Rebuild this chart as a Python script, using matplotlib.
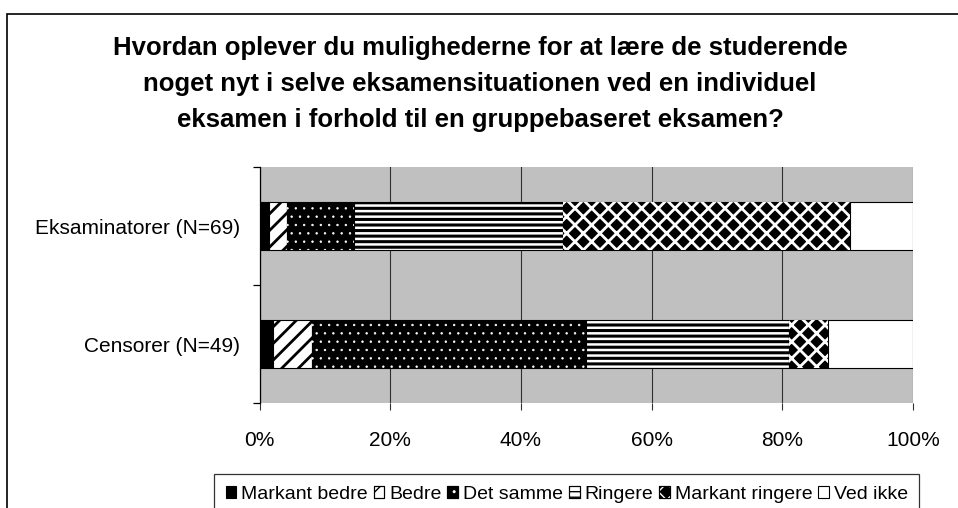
import numpy as np
import matplotlib
matplotlib.use("Agg")
import matplotlib.pyplot as plt
from matplotlib.patches import Rectangle, Patch
from matplotlib.legend_handler import HandlerTuple

plt.rcParams['font.family'] = ['Liberation Sans', 'DejaVu Sans']

# data (percent of respondents)
groups = ['Censorer (N=49)', 'Eksaminatorer (N=69)']
answers = ['Markant bedre', 'Bedre', 'Det samme', 'Ringere', 'Markant ringere', 'Ved ikke']
censorer = [2, 6, 42, 31, 6, 13]
eksaminatorer = [1.4, 2.8, 10.2, 32, 44, 9.6]
xticks = [0, 20, 40, 60, 80, 100]
title_lines = ['Hvordan oplever du mulighederne for at lære de studerende',
               'noget nyt i selve eksamensituationen ved en individuel',
               'eksamen i forhold til en gruppebaseret eksamen?']

# fill style per answer: (base colour, hatch, hatch colour, hatch width)
styles = [
    ('black', None, None, 0),
    ('white', '//', 'black', 2.0),
    ('black', '..', 'white', 0.5),
    ('white', '---', 'black', 2.2),
    ('black', 'xx', 'white', 2.0),
    ('white', None, None, 0),
]

fig = plt.figure(figsize=(9.58, 5.08), dpi=100)
ax = fig.add_axes([259.5 / 958, 1 - 403 / 508, 653.5 / 958, 236 / 508])
ax.set_facecolor('#c0c0c0')

values = np.array([censorer, eksaminatorer], dtype=float)
ypos = np.arange(len(groups))
left = np.zeros(len(groups))
handles = []
for i, name in enumerate(answers):
    base, hatch, hcol, hlw = styles[i]
    ax.barh(ypos, values[:, i], left=left, height=0.4, color=base,
            edgecolor='black', linewidth=0.8, zorder=3)
    h_base = Patch(facecolor=base, edgecolor='black', linewidth=0.8)
    if hatch:
        bars = ax.barh(ypos, values[:, i], left=left, height=0.4, facecolor='none',
                       edgecolor=hcol, hatch=hatch, linewidth=0, zorder=4)
        for b in bars:
            if hasattr(b, 'set_hatch_linewidth'):
                b.set_hatch_linewidth(hlw)
        h_hatch = Patch(facecolor='none', edgecolor=hcol, hatch=hatch, linewidth=0)
        if hasattr(h_hatch, 'set_hatch_linewidth'):
            h_hatch.set_hatch_linewidth(hlw * 0.6)
        handles.append((h_base, h_hatch, Patch(facecolor='none', edgecolor='black', linewidth=0.8)))
    else:
        handles.append((h_base,))
    left += values[:, i]

ax.set_xlim(0, 100)
ax.set_ylim(-0.5, 1.5)
ax.set_xticks(xticks)
ax.set_xticklabels([f'{t}%' for t in xticks])
ax.set_yticks(ypos)
ax.set_yticklabels(groups)
ax.set_yticks([-0.5, 0.5, 1.5], minor=True)
ax.xaxis.grid(True, color='#303030', linewidth=0.8, zorder=1)
ax.set_axisbelow(True)
for s in ['top', 'right', 'bottom']:
    ax.spines[s].set_visible(False)
ax.spines['left'].set_linewidth(0.9)
ax.tick_params(axis='y', which='major', length=0, pad=14, labelsize=15)
ax.tick_params(axis='y', which='minor', length=5, width=0.9, direction='out')
ax.tick_params(axis='x', length=5, width=0.8, color='#303030', pad=15, labelsize=15)

for k, line in enumerate(title_lines):
    fig.text(480 / 958, 1 - (48 + 36 * k) / 508, line, ha='center', va='center',
             fontsize=18.5, fontweight='bold')

# outer chart frame (cut off at right/bottom)
fig.patches.append(Rectangle((7 / 958, -0.2), 2, 1 - 14 / 508 + 0.2,
                             transform=fig.transFigure, fill=False,
                             edgecolor='black', linewidth=1.2))

leg = fig.legend(handles, answers, ncol=6, loc='upper left',
                 bbox_to_anchor=(214 / 958, 1 - 474 / 508),
                 handler_map={tuple: HandlerTuple(ndivide=1, pad=0)},
                 fontsize=14, frameon=True, fancybox=False, borderpad=0.6,
                 handlelength=0.55, handleheight=0.55, handletextpad=0.25,
                 columnspacing=0.3, borderaxespad=0)
leg.get_frame().set_edgecolor('black')
leg.get_frame().set_linewidth(0.9)

fig.savefig('out.png', dpi=100)
